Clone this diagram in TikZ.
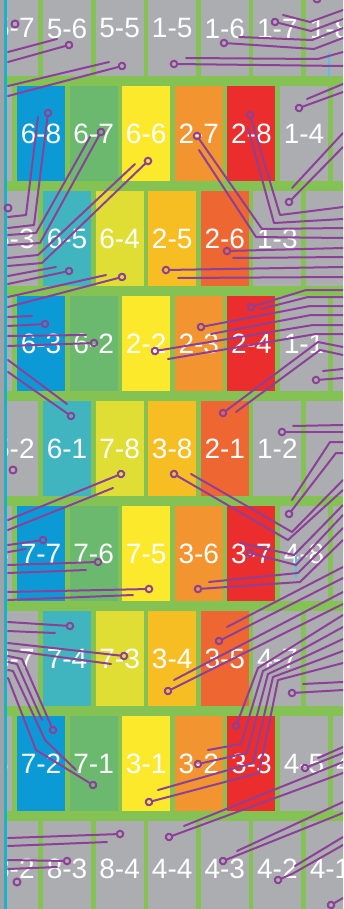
\documentclass[tikz,border=0pt]{standalone}
\usepackage{fontspec}
\setsansfont{Liberation Sans}
\usepackage{tikz}
\usetikzlibrary{arrows.meta}

\definecolor{boardgreen}{RGB}{133,194,84}
\definecolor{cellgray}{RGB}{171,173,176}
\definecolor{cellblue}{RGB}{12,154,214}
\definecolor{cellgreen}{RGB}{107,185,110}
\definecolor{cellyellow}{RGB}{253,233,44}
\definecolor{cellorange}{RGB}{242,148,47}
\definecolor{cellred}{RGB}{235,45,46}
\definecolor{cellteal}{RGB}{65,181,191}
\definecolor{celllime}{RGB}{224,222,52}
\definecolor{cellamber}{RGB}{246,190,35}
\definecolor{cellrust}{RGB}{238,102,49}
\definecolor{tracepurple}{RGB}{141,64,152}
\definecolor{edgecyan}{RGB}{24,178,202}
\definecolor{edgegray}{RGB}{160,162,165}
\definecolor{probeblue}{RGB}{90,190,235}

\begin{document}
\begin{tikzpicture}[
    x=1pt, y=-1pt,
    cell/.style={minimum width=48pt, minimum height=95pt, inner sep=0pt, text=white, font=\sffamily\fontsize{28}{30}\selectfont},
    trace/.style={draw=tracepurple, line width=2pt, line cap=round, line join=round},
    tracepad/.style={trace, -{Circle[open, length=8.5pt]}, shorten >=-4.25pt},
    probe/.style={draw=probeblue, line width=1.5pt}
]
    \useasboundingbox (0,0) rectangle (343,909);
    \clip (0,0) rectangle (343,909);
    \fill [boardgreen] (0,0) rectangle (343,909);

    % Row 1
    \foreach \k/\lab in {-1/5-7, 0/5-6, 1/5-5, 2/1-5, 3/1-6, 4/1-7, 5/1-8}
        \node [cell, fill=cellgray] (r1c\k) at ({67+52.6*\k}, 28.5) {\lab};
    % Row 2
    \foreach \k/\col/\lab in {-1/cellgray/{}, 0/cellblue/6-8, 1/cellgreen/6-7, 2/cellyellow/6-6, 3/cellorange/2-7, 4/cellred/2-8, 5/cellgray/1-4, 6/cellgray/{}}
        \node [cell, fill=\col] (r2c\k) at ({41+52.6*\k}, 133.5) {\lab};
    % Row 3
    \foreach \k/\col/\lab in {-1/cellgray/5-3, 0/cellteal/6-5, 1/celllime/6-4, 2/cellamber/2-5, 3/cellrust/2-6, 4/cellgray/1-3, 5/cellgray/{}}
        \node [cell, fill=\col] (r3c\k) at ({67+52.6*\k}, 238.5) {\lab};
    % Row 4
    \foreach \k/\col/\lab in {-1/cellgray/{}, 0/cellblue/6-3, 1/cellgreen/6-2, 2/cellyellow/2-2, 3/cellorange/2-3, 4/cellred/2-4, 5/cellgray/1-1, 6/cellgray/{}}
        \node [cell, fill=\col] (r4c\k) at ({41+52.6*\k}, 343.5) {\lab};
    % Row 5
    \foreach \k/\col/\lab in {-1/cellgray/5-2, 0/cellteal/6-1, 1/celllime/7-8, 2/cellamber/3-8, 3/cellrust/2-1, 4/cellgray/1-2, 5/cellgray/{}}
        \node [cell, fill=\col] (r5c\k) at ({67+52.6*\k}, 448.5) {\lab};
    % Row 6
    \foreach \k/\col/\lab in {-1/cellgray/8-5, 0/cellblue/7-7, 1/cellgreen/7-6, 2/cellyellow/7-5, 3/cellorange/3-6, 4/cellred/3-7, 5/cellgray/4-8, 6/cellgray/{}}
        \node [cell, fill=\col] (r6c\k) at ({41+52.6*\k}, 553.5) {\lab};
    % Row 7
    \foreach \k/\col/\lab in {-1/cellgray/8-7, 0/cellteal/7-4, 1/celllime/7-3, 2/cellamber/3-4, 3/cellrust/3-5, 4/cellgray/4-7, 5/cellgray/{}}
        \node [cell, fill=\col] (r7c\k) at ({67+52.6*\k}, 658.5) {\lab};
    % Row 8
    \foreach \k/\col/\lab in {-1/cellgray/8-6, 0/cellblue/7-2, 1/cellgreen/7-1, 2/cellyellow/3-1, 3/cellorange/3-2, 4/cellred/3-3, 5/cellgray/4-5, 6/cellgray/4-6}
        \node [cell, fill=\col] (r8c\k) at ({41+52.6*\k}, 763.5) {\lab};
    % Row 9
    \foreach \k/\lab in {-1/8-2, 0/8-3, 1/8-4, 2/4-4, 3/4-3, 4/4-2, 5/4-1}
        \node [cell, fill=cellgray] (r9c\k) at ({67+52.6*\k}, 868.5) {\lab};

    % Left edge strip
    \fill [edgegray] (0,0) rectangle (4,909);
    \fill [edgecyan] (4,0) rectangle (7.3,909);

    % Small blue marks
    \draw [probe] (329,52) -- (329,77);
    \draw [probe] (296,556) -- (296,578);

    % Traces, rows 1-2
    \draw [trace] (15,24) circle (3.5pt);
    \draw [trace] (8,52) -- (57,39);
    \draw [tracepad] (8,62) -- (69,45);
    \draw [trace] (8,86) -- (109,62);
    \draw [tracepad] (8,96) -- (122,66);
    \draw [trace] (317,-1) circle (3.5pt);
    \draw [trace] (283,15) -- (310,22) -- (343,10);
    \draw [tracepad] (343,19) -- (311,31) -- (275,22);
    \draw [trace] (239,37) -- (312,40) -- (343,28);
    \draw [tracepad] (343,38) -- (314,49) -- (224,43);
    \draw [trace] (186,58) -- (318,59) -- (343,52);
    \draw [tracepad] (343,66) -- (174,64);
    \draw [trace] (307,99) -- (343,84);
    \draw [tracepad] (343,92) -- (299,108);
    \draw [trace] (292,188) -- (343,133);
    \draw [tracepad] (343,147) -- (289,202);

    % Traces, rows 2-3
    \draw [tracepad] (343,207) -- (280,215) -- (250,115);
    \draw [trace] (248,128) -- (274,223) -- (343,219);
    \draw [tracepad] (343,228) -- (262,229) -- (197,136);
    \draw [trace] (199,150) -- (256,237) -- (343,238);
    \draw [trace] (8,208) circle (3.5pt);
    \draw [tracepad] (343,248) -- (227,251);
    \draw [trace] (233,258) -- (343,257);
    \draw [tracepad] (343,267) -- (166,270);
    \draw [trace] (178,278) -- (343,277);
    \draw [trace] (38,117) -- (26,215) -- (8,217);
    \draw [tracepad] (8,228) -- (34,225) -- (48,113);
    \draw [trace] (90,137) -- (36,233) -- (8,235);
    \draw [tracepad] (8,245) -- (40,243) -- (101,132);
    \draw [trace] (135,164) -- (38,255) -- (8,258);
    \draw [tracepad] (8,266) -- (42,263) -- (148,161);
    \draw [trace] (8,276) -- (56,267);
    \draw [tracepad] (8,284) -- (69,271);
    \draw [trace] (8,297) -- (106,275);
    \draw [tracepad] (8,307) -- (122,277);

    % Traces, row 4
    \draw [trace] (8,317) -- (32,316);
    \draw [tracepad] (8,326) -- (45,324);
    \draw [trace] (8,336) -- (86,335);
    \draw [tracepad] (8,346) -- (94,343);
    \draw [trace] (8,360) -- (67,404);
    \draw [tracepad] (8,372) -- (71,416);
    \draw [tracepad] (343,290) -- (306,290) -- (251,307);
    \draw [trace] (261,309) -- (308,297) -- (343,297);
    \draw [tracepad] (343,306) -- (310,306) -- (201,327);
    \draw [trace] (211,334) -- (311,315) -- (343,315);
    \draw [tracepad] (343,325) -- (313,325) -- (155,351);
    \draw [trace] (168,359) -- (316,334) -- (343,334);
    \draw [tracepad] (343,347) -- (318,342) -- (223,413);
    \draw [trace] (236,412) -- (320,350) -- (343,355);
    \draw [tracepad] (343,378) -- (316,380);
    \draw [trace] (323,371) -- (343,369);

    % Traces, row 5
    \draw [trace] (13,470) circle (3.5pt);
    \draw [trace] (113,488) -- (8,530);
    \draw [tracepad] (8,520) -- (121,474);
    \draw [tracepad] (343,432) -- (282,432);
    \draw [trace] (293,426) -- (343,425);
    \draw [trace] (292,500) -- (330,442) -- (343,442);
    \draw [tracepad] (343,453) -- (336,453) -- (289,514);
    \draw [trace] (191,474) -- (292,532) -- (343,480);
    \draw [tracepad] (343,490) -- (288,540) -- (174,474);

    % Traces, row 6
    \draw [trace] (240,543) -- (294,555) -- (343,505);
    \draw [tracepad] (343,515) -- (296,565) -- (250,553);
    \draw [trace] (209,582) -- (298,573) -- (343,528);
    \draw [tracepad] (343,540) -- (300,582) -- (198,589);
    \draw [tracepad] (8,545) -- (43,540);
    \draw [trace] (26,549) -- (8,552);
    \draw [tracepad] (8,565) -- (98,562);
    \draw [trace] (86,570) -- (8,573);
    \draw [tracepad] (8,592) -- (149,589);
    \draw [trace] (133,595) -- (8,600);

    % Traces, row 7
    \draw [trace] (227,627) -- (343,567);
    \draw [tracepad] (343,578) -- (219,641);
    \draw [trace] (174,680) -- (343,592);
    \draw [tracepad] (343,604) -- (168,691);
    \draw [tracepad] (343,615) -- (258,668) -- (236,726);
    \draw [trace] (208,750) -- (241,744) -- (263,671) -- (343,627);
    \draw [tracepad] (343,639) -- (268,674) -- (247,753) -- (198,764);
    \draw [trace] (158,790) -- (253,763) -- (273,677) -- (343,651);
    \draw [tracepad] (343,663) -- (278,680) -- (259,773) -- (149,802);
    \draw [tracepad] (343,690) -- (292,693);
    \draw [trace] (303,684) -- (343,682);
    \draw [tracepad] (8,622) -- (70,626);
    \draw [trace] (55,633) -- (8,631);
    \draw [tracepad] (8,643) -- (124,656);
    \draw [trace] (111,664) -- (8,650);
    \draw [tracepad] (8,656) -- (22,659) -- (53,730);
    \draw [trace] (8,662) -- (17,664) -- (42,720);
    \draw [trace] (8,670) -- (13,671) -- (45,740) -- (76,770);
    \draw [tracepad] (8,678) -- (36,750) -- (93,785);

    % Traces, rows 8-9
    \draw [tracepad] (343,753) -- (305,768);
    \draw [trace] (318,758) -- (343,747);
    \draw [trace] (184,826) -- (343,762);
    \draw [tracepad] (343,773) -- (169,837);
    \draw [trace] (237,851) -- (343,802);
    \draw [tracepad] (343,813) -- (223,861);
    \draw [trace] (295,866) -- (343,837);
    \draw [tracepad] (343,845) -- (292,874) -- (278,880);
    \draw [tracepad] (343,898) -- (331,905);
    \draw [tracepad] (8,838) -- (120,834);
    \draw [trace] (8,846) -- (107,842);
    \draw [tracepad] (8,860) -- (67,861);
    \draw [trace] (8,869) -- (57,867);
    \draw [trace] (17,882) circle (3.5pt);
\end{tikzpicture}
\end{document}
